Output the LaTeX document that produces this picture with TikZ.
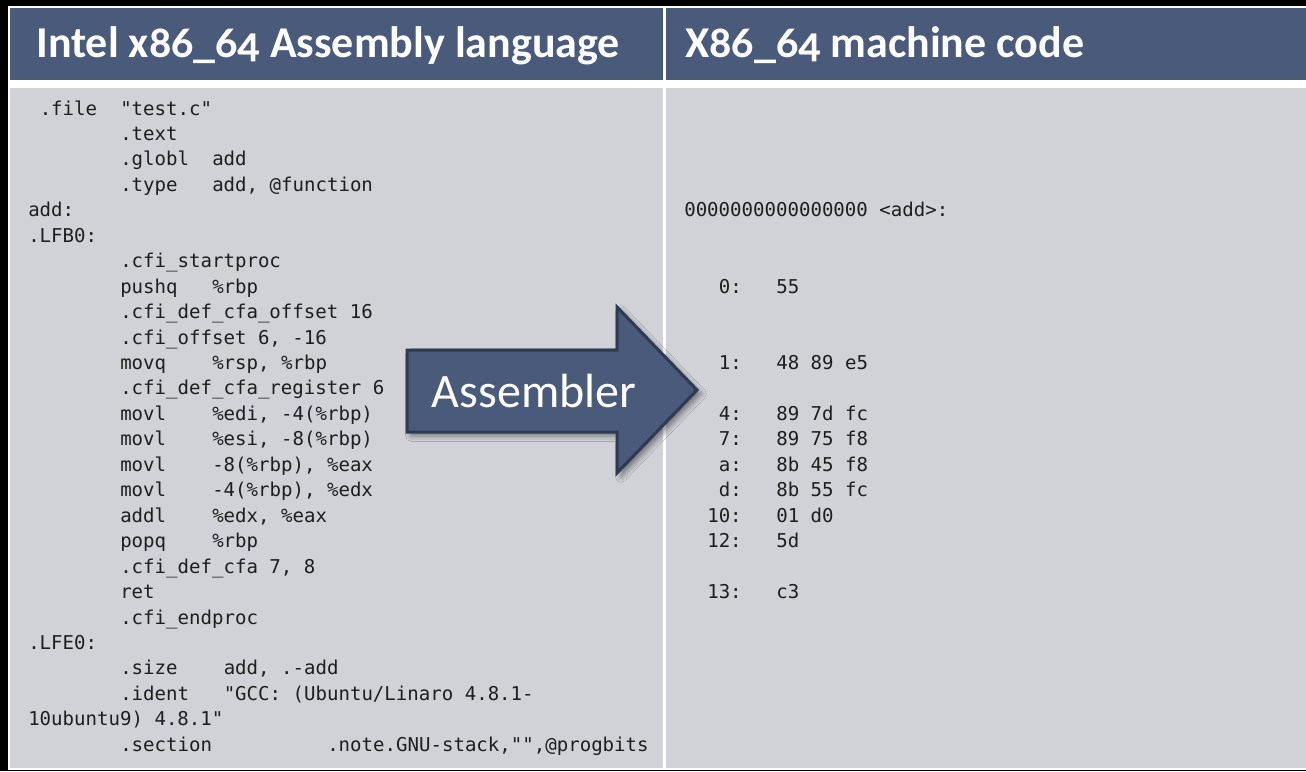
\documentclass[tikz,border=0pt]{standalone}
\usepackage{fontspec}
\usepackage{xcolor}
\usepackage{tikz}
\usetikzlibrary{shadows.blur}
\newfontfamily\codefont{DejaVu Sans Mono}
\newfontfamily\headfont[Numbers=OldStyle]{Carlito}
\definecolor{page}{HTML}{000000}
\definecolor{slate}{HTML}{4A5A7B}
\definecolor{slatedark}{HTML}{2E3A52}
\definecolor{cellgray}{HTML}{D0D2D7}
\definecolor{ink}{HTML}{1E1E1E}
\tikzset{
  headcell/.style={fill=slate},
  bodycell/.style={fill=cellgray},
  headtext/.style={anchor=base west, inner sep=0pt, text=white, font=\headfont\bfseries\fontsize{33}{40}\selectfont},
  code/.style={anchor=base west, inner sep=0pt, text=ink, font=\codefont\fontsize{14.3}{17}\selectfont},
  arrowshape/.style={fill=slate, draw=slatedark, line width=2.25pt, line join=miter,
    blur shadow={shadow xshift=3pt, shadow yshift=-3pt, shadow blur radius=4pt, shadow opacity=45}},
  arrowtext/.style={anchor=base, inner sep=0pt, text=white, font=\headfont\fontsize{36}{42}\selectfont},
}
\frenchspacing

\begin{document}
\begin{tikzpicture}[x=0.75pt, y=-0.75pt]
  % page and table cells
  \fill[page] (0,0) rectangle (1306,771);
  \useasboundingbox (0,0) rectangle (1306,771);
  \fill[white] (8,6) rectangle (1306,770);
  \fill[headcell] (10,8) rectangle (663,80);
  \fill[headcell] (666,8) rectangle (1306,80);
  \fill[bodycell] (10,88) rectangle (663,768);
  \fill[bodycell] (666,88) rectangle (1306,768);
  \node[headtext] (asmhead) at (36,57) {Intel x86\_64 Assembly language};
  \node[headtext] (mchead) at (685,57) {X86\_64 machine code};
  % assembly listing: row/column/text
  \foreach \row/\col/\code in {
    1/1/{.file}, 1/8/{"test.c"},
    2/8/{.text},
    3/8/{.globl}, 3/16/{add},
    4/8/{.type}, 4/16/{add, @function},
    5/0/{add:},
    6/0/{.LFB0:},
    7/8/{.cfi\_startproc},
    8/8/{pushq}, 8/16/{\%rbp},
    9/8/{.cfi\_def\_cfa\_offset 16},
    10/8/{.cfi\_offset 6, -16},
    11/8/{movq}, 11/16/{\%rsp, \%rbp},
    12/8/{.cfi\_def\_cfa\_register 6},
    13/8/{movl}, 13/16/{\%edi, -4(\%rbp)},
    14/8/{movl}, 14/16/{\%esi, -8(\%rbp)},
    15/8/{movl}, 15/16/{-8(\%rbp), \%eax},
    16/8/{movl}, 16/16/{-4(\%rbp), \%edx},
    17/8/{addl}, 17/16/{\%edx, \%eax},
    18/8/{popq}, 18/16/{\%rbp},
    19/8/{.cfi\_def\_cfa 7, 8},
    20/8/{ret},
    21/8/{.cfi\_endproc},
    22/0/{.LFE0:},
    23/8/{.size}, 23/17/{add, .-add},
    24/8/{.ident}, 24/17/{"GCC: (Ubuntu/Linaro 4.8.1-},
    25/0/{10ubuntu9) 4.8.1"},
    26/8/{.section}, 26/26/{.note.GNU-stack,"",@progbits}}
    \node[code] (asm-\row-\col) at ({28+\col*11.5},{115+(\row-1)*25.45}) {\code};
  % machine code listing
  \foreach \row/\col/\code in {
    5/0/{0000000000000000 <add>:},
    8/3/{0:}, 8/8/{55},
    11/3/{1:}, 11/8/{48 89 e5},
    13/3/{4:}, 13/8/{89 7d fc},
    14/3/{7:}, 14/8/{89 75 f8},
    15/3/{a:}, 15/8/{8b 45 f8},
    16/3/{d:}, 16/8/{8b 55 fc},
    17/2/{10:}, 17/8/{01 d0},
    18/2/{12:}, 18/8/{5d},
    20/2/{13:}, 20/8/{c3}}
    \node[code] (mc-\row-\col) at ({684+\col*11.5},{115+(\row-1)*25.45}) {\code};
  % assembler arrow
  \draw[arrowshape] (407,350) -- (617,350) -- (617,307) -- (697,390)
    -- (617,473) -- (617,432) -- (407,432) -- cycle;
  \node[arrowtext] (assembler) at (534,407) {Assembler};
\end{tikzpicture}
\end{document}
